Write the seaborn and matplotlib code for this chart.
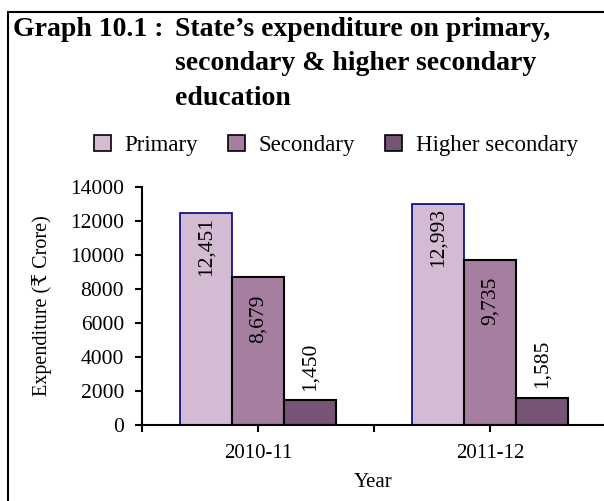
import matplotlib
matplotlib.use('Agg')
import matplotlib.pyplot as plt
from matplotlib.lines import Line2D
import pandas
import seaborn as sns

years = ['2010-11', '2011-12']
levels = ['Primary', 'Secondary', 'Higher secondary']
primary = [12451, 12993]
secondary = [8679, 9735]
higherSecondary = [1450, 1585]
colors = ['#D3BCD3', '#A67E9F', '#775475']
yTicks = [0, 2000, 4000, 6000, 8000, 10000, 12000, 14000]

sns.set_style('white')
plt.rcParams['font.family'] = ['Liberation Serif', 'DejaVu Serif', 'DejaVu Sans']
for key in ['text.color', 'axes.labelcolor', 'xtick.color', 'ytick.color']:
    plt.rcParams[key] = 'black'

rows = []
for level, values in zip(levels, [primary, secondary, higherSecondary]):
    for year, value in zip(years, values):
        rows.append({'Year': year, 'Level': level, 'Value': value})
data = pandas.DataFrame(rows)

fig = plt.figure(figsize=(6.04, 5.01), dpi=100)
ax = fig.add_axes([0.2351, 0.1517, 0.7649, 0.475])

sns.barplot(data=data, x='Year', y='Value', hue='Level', hue_order=levels,
            palette=colors, width=0.67, saturation=1, ax=ax,
            edgecolor='black', linewidth=1.5)

# primary bars have a navy outline in the original
for patch in ax.containers[0]:
    patch.set_edgecolor('#000080')
    patch.set_linewidth(1.2)

# value labels, rotated
offsets = [-3, -12, 7]
for container, off in zip(ax.containers, offsets):
    for patch in container:
        value = patch.get_height()
        xc = patch.get_x() + patch.get_width() / 2
        va = 'top' if off < 0 else 'bottom'
        ax.annotate(f'{value:,.0f}', (xc, value), xytext=(0, off),
                    textcoords='offset points', rotation=90,
                    ha='center', va=va, fontsize=15.5)

handles, labels = ax.get_legend_handles_labels()
ax.get_legend().remove()
for h in handles:
    h.set_edgecolor('black')
    h.set_linewidth(1.2)
fig.legend(handles, labels, loc='center', bbox_to_anchor=(0.556, 0.71),
           ncol=3, frameon=False, fontsize=16.5, handlelength=0.75,
           handleheight=0.75, handletextpad=0.6, columnspacing=1.3)

ax.set_ylim(0, 14000)
ax.set_yticks(yTicks)
ax.set_xlim(-0.5, 1.49)
ax.set_xticks([-0.5, 0, 0.5, 1])
ax.set_xticklabels(['', '2010-11', '', '2011-12'])
ax.tick_params(axis='y', direction='out', length=5, width=1.5, pad=8, labelsize=15.5, left=True)
ax.tick_params(axis='x', direction='out', length=5, width=1.5, pad=9, labelsize=15, bottom=True)
ax.set_xlabel('Year', fontsize=15, labelpad=7)
ax.set_ylabel('Expenditure (₹ Crore)', fontsize=14.5, labelpad=13)
for side in ['top', 'right']:
    ax.spines[side].set_visible(False)
for side in ['left', 'bottom']:
    ax.spines[side].set_color('black')
    ax.spines[side].set_linewidth(1.5)

# title
fig.text(13 / 604, 1 - 36 / 501, 'Graph 10.1 :', fontsize=20, fontweight='bold', va='baseline')
titleLines = ['State\u2019s expenditure on primary,', 'secondary & higher secondary', 'education']
for i, line in enumerate(titleLines):
    fig.text(175 / 604, 1 - (36 + 34.5 * i) / 501, line, fontsize=20,
             fontweight='bold', va='baseline')

# frame lines (top and left only)
fig.add_artist(Line2D([8 / 604, 1], [1 - 12 / 501, 1 - 12 / 501], color='black', lw=1.5))
fig.add_artist(Line2D([8 / 604, 8 / 604], [0, 1 - 12 / 501], color='black', lw=1.5))

fig.savefig('out.png', dpi=100)
